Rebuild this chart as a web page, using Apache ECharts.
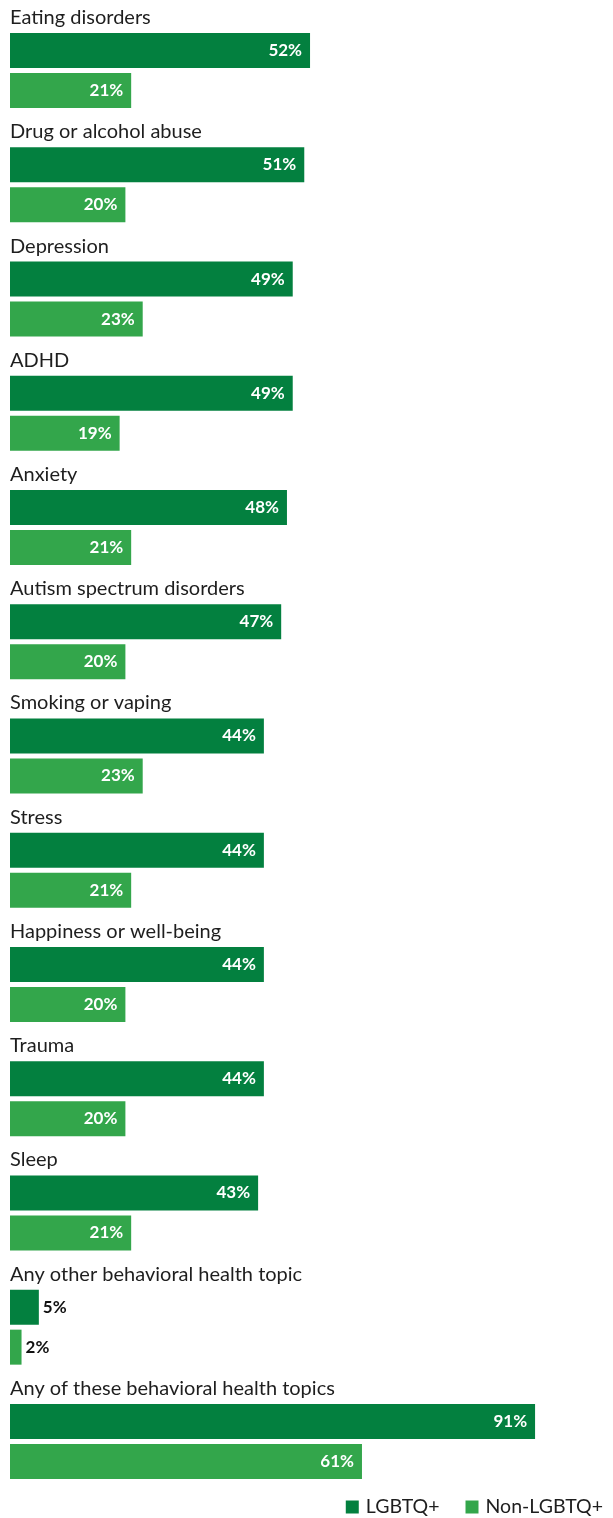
<!DOCTYPE html>
<html>
<head>
<meta charset="utf-8">
<script src="https://cdn.jsdelivr.net/npm/echarts@6/dist/echarts.min.js"></script>
<style>
  html, body { margin: 0; padding: 0; background: #ffffff; }
  #chart { width: 613px; height: 1518px; }
</style>
</head>
<body>
<div id="chart"></div>
<script>
// Behavioral health topics, share of respondents (%)
const categories = [
  'Eating disorders',
  'Drug or alcohol abuse',
  'Depression',
  'ADHD',
  'Anxiety',
  'Autism spectrum disorders',
  'Smoking or vaping',
  'Stress',
  'Happiness or well-being',
  'Trauma',
  'Sleep',
  'Any other behavioral health topic',
  'Any of these behavioral health topics'
];
const lgbtqValues = [52, 51, 49, 49, 48, 47, 44, 44, 44, 44, 43, 5, 91];
const nonLgbtqValues = [21, 20, 23, 19, 21, 20, 23, 21, 20, 20, 21, 2, 61];
const seriesNames = ['LGBTQ+', 'Non-LGBTQ+'];

const DARK = '#03803f';
const LIGHT = '#33a64b';
const FONT = 'Lato, "Noto Sans", sans-serif';

// Short bars get their value printed outside, in dark text
function withLabels(values) {
  return values.map(v => v < 10
    ? { value: v, label: { position: 'right', distance: 4, color: '#111111' } }
    : v);
}

const chart = echarts.init(document.getElementById('chart'), null, { renderer: 'canvas' });

chart.setOption({
  animation: false,
  backgroundColor: '#ffffff',
  grid: { left: 10, width: 577, top: 13.5, height: 1485, containLabel: false },
  xAxis: {
    type: 'value', min: 0, max: 100,
    show: false
  },
  yAxis: {
    type: 'category',
    data: categories,
    inverse: true,
    axisLine: { show: false },
    axisTick: { show: false },
    splitLine: { show: false },
    axisLabel: {
      inside: true,
      margin: 0,
      align: 'left',
      verticalAlign: 'middle',
      interval: 0,
      // topic name sits on the first line; an empty spacer line below it
      // lifts the name above the pair of bars
      formatter: name => '{t|' + name + '}\n{s| }',
      rich: {
        t: { fontFamily: FONT, fontSize: 20, lineHeight: 22, color: '#1e1e1e' },
        s: { fontSize: 10, lineHeight: 106 }
      }
    }
  },
  legend: {
    data: seriesNames,
    right: 10,
    top: 1497,
    padding: 0,
    icon: 'rect',
    itemWidth: 13,
    itemHeight: 13,
    itemGap: 26,
    textStyle: { fontFamily: FONT, fontSize: 19.5, color: '#1e1e1e', padding: [0, 0, 0, 2] }
  },
  series: [
    {
      name: seriesNames[0],
      type: 'bar',
      data: withLabels(lgbtqValues),
      barWidth: 35,
      barGap: '14.2857%',
      itemStyle: { color: DARK },
      label: {
        show: true,
        position: 'insideRight',
        distance: 8,
        formatter: '{c}%',
        fontFamily: FONT,
        fontWeight: 'bold',
        fontSize: 17,
        color: '#ffffff'
      }
    },
    {
      name: seriesNames[1],
      type: 'bar',
      data: withLabels(nonLgbtqValues),
      barWidth: 35,
      barGap: '14.2857%',
      itemStyle: { color: LIGHT },
      label: {
        show: true,
        position: 'insideRight',
        distance: 8,
        formatter: '{c}%',
        fontFamily: FONT,
        fontWeight: 'bold',
        fontSize: 17,
        color: '#ffffff'
      }
    }
  ]
});
</script>
</body>
</html>
